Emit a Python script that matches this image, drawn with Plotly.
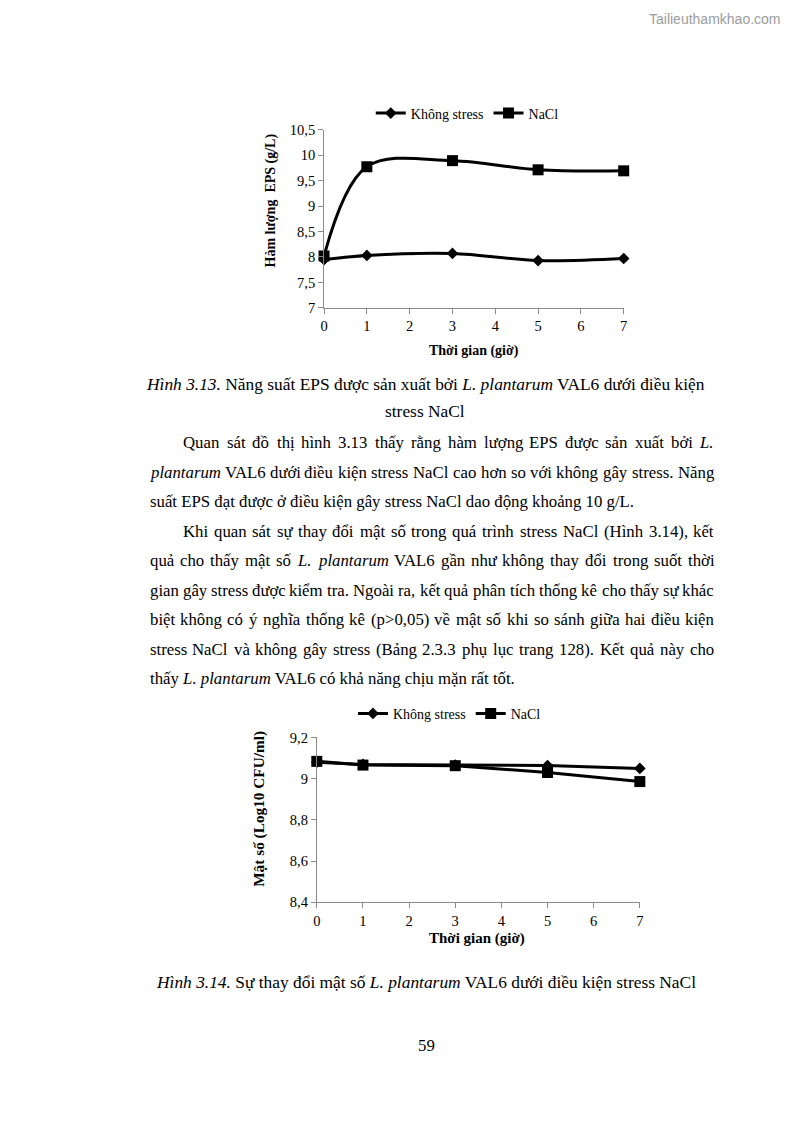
import unicodedata
import plotly.graph_objects as go

W, H = 794, 1123

# ---------------- data ----------------
time_h = [0, 1, 3, 5, 7]
x_ticks = [0, 1, 2, 3, 4, 5, 6, 7]
series_names = ["Không stress", "NaCl"]

# Figure 3.13 - EPS (g/L)
eps_khong_stress = [7.95, 8.03, 8.07, 7.93, 7.97]
eps_nacl = [8.02, 9.77, 9.89, 9.71, 9.69]
eps_yticks = [7, 7.5, 8, 8.5, 9, 9.5, 10, 10.5]
eps_yticklabels = ["7", "7,5", "8", "8,5", "9", "9,5", "10", "10,5"]

# Figure 3.14 - cell count (log10 CFU/ml)
cnt_khong_stress = [9.080, 9.069, 9.066, 9.064, 9.050]
cnt_nacl = [9.084, 9.066, 9.063, 9.030, 8.986]
cnt_yticks = [8.4, 8.6, 8.8, 9.0, 9.2]
cnt_yticklabels = ["8,4", "8,6", "8,8", "9", "9,2"]

# ---------------- page text ----------------
caption1_a = "<i>Hình 3.13.</i> Năng suất EPS được sản xuất bởi <i>L. plantarum</i> VAL6 dưới điều kiện"
caption1_b = "stress NaCl"
para_lines = [
    ("Quan sát đồ thị hình 3.13 thấy rằng hàm lượng EPS được sản xuất bởi <i>L.</i>", True, True),
    ("<i>plantarum</i> VAL6 dưới điều kiện stress NaCl cao hơn so với không gây stress. Năng", False, True),
    ("suất EPS đạt được ở điều kiện gây stress NaCl dao động khoảng 10 g/L.", False, False),
    ("Khi quan sát sự thay đổi mật số trong quá trình stress NaCl (Hình 3.14), kết", True, True),
    ("quả cho thấy mật số <i>L.</i> <i>plantarum</i> VAL6 gần như không thay đổi trong suốt thời", False, True),
    ("gian gây stress được kiểm tra. Ngoài ra, kết quả phân tích thống kê cho thấy sự khác", False, True),
    ("biệt không có ý nghĩa thống kê (p>0,05) về mật số khi so sánh giữa hai điều kiện", False, True),
    ("stress NaCl và không gây stress (Bảng 2.3.3 phụ lục trang 128). Kết quả này cho", False, True),
    ("thấy <i>L. plantarum</i> VAL6 có khả năng chịu mặn rất tốt.", False, False),
]
caption2 = "<i>Hình 3.14.</i> Sự thay đổi mật số <i>L. plantarum</i> VAL6 dưới điều kiện stress NaCl"
page_no = "59"
watermark = "Tailieuthamkhao.com"

SERIF = "Liberation Serif, Times New Roman, serif"
FS = 16.8      # body text
FS_CAP = 17.4  # captions


def px(x):
    return x / W


def py(y):
    return 1 - y / H


# Times New Roman advance widths (per 1000 em)
REG = {}
ITA = {}
for ch, w in zip("abcdefghijklmnopqrstuvwxyz",
                 [444, 500, 444, 500, 444, 333, 500, 500, 278, 278, 500, 278, 778,
                  500, 500, 500, 500, 333, 389, 278, 500, 500, 722, 500, 500, 444]):
    REG[ch] = w
for ch, w in zip("ABCDEFGHIJKLMNOPQRSTUVWXYZ",
                 [722, 667, 667, 722, 611, 556, 722, 722, 333, 389, 722, 611, 889,
                  722, 722, 556, 722, 667, 556, 611, 722, 722, 944, 722, 722, 611]):
    REG[ch] = w
for ch, w in zip("abcdefghijklmnopqrstuvwxyz",
                 [500, 500, 444, 500, 444, 278, 500, 500, 278, 278, 444, 278, 722,
                  500, 500, 500, 500, 389, 389, 278, 500, 444, 667, 444, 444, 389]):
    ITA[ch] = w
for ch, w in zip("ABCDEFGHIJKLMNOPQRSTUVWXYZ",
                 [611, 611, 667, 722, 611, 611, 722, 722, 333, 444, 667, 556, 833,
                  667, 722, 611, 722, 611, 500, 556, 722, 611, 833, 611, 556, 556]):
    ITA[ch] = w
PUN = {".": 250, ",": 250, "(": 333, ")": 333, "/": 278, ">": 564, ":": 278,
       "-": 333, " ": 250, "đ": 500, "Đ": 722}
KERN = {("V", "A"): -129, ("A", "V"): -135, ("y", "."): -65, ("y", ","): -65,
        ("r", "."): -55, ("r", ","): -40}


def char_w(ch, italic):
    if ch in PUN:
        return PUN[ch]
    if ch.isdigit():
        return 500
    base = unicodedata.normalize("NFD", ch)[0]
    table = ITA if italic else REG
    return table.get(base, 500)


def word_w(plain, italic):
    w = sum(char_w(c, italic) for c in plain)
    for a, b in zip(plain, plain[1:]):
        w += KERN.get((a, b), 0)
    if italic:
        w += 60  # slanted overhang
    return w * FS / 1000


fig = go.Figure()

# ---------------- traces ----------------
fig.add_trace(go.Scatter(
    x=time_h, y=eps_khong_stress, name=series_names[0], mode="lines+markers",
    line=dict(color="black", width=3, shape="spline", smoothing=1),
    marker=dict(symbol="diamond", size=9, color="black"),
    xaxis="x", yaxis="y", legend="legend", cliponaxis=False))
fig.add_trace(go.Scatter(
    x=time_h, y=eps_nacl, name=series_names[1], mode="lines+markers",
    line=dict(color="black", width=3, shape="spline", smoothing=1),
    marker=dict(symbol="square", size=11, color="black"),
    xaxis="x", yaxis="y", legend="legend", cliponaxis=False))
fig.add_trace(go.Scatter(
    x=time_h, y=cnt_khong_stress, name=series_names[0], mode="lines+markers",
    line=dict(color="black", width=3),
    marker=dict(symbol="diamond", size=9, color="black"),
    xaxis="x2", yaxis="y2", legend="legend2", cliponaxis=False))
fig.add_trace(go.Scatter(
    x=time_h, y=cnt_nacl, name=series_names[1], mode="lines+markers",
    line=dict(color="black", width=3),
    marker=dict(symbol="square", size=11, color="black"),
    xaxis="x2", yaxis="y2", legend="legend2", cliponaxis=False))

axis_common = dict(showgrid=False, zeroline=False, showline=True, linecolor="#8a8a8a",
                   linewidth=1, ticks="outside", ticklen=5, tickcolor="#8a8a8a",
                   tickfont=dict(family=SERIF, size=14.5, color="black"), fixedrange=True)

legend_common = dict(orientation="h", xanchor="center", yanchor="middle",
                     font=dict(family=SERIF, size=14, color="black"),
                     bgcolor="rgba(0,0,0,0)", itemwidth=30, traceorder="normal")

fig.update_layout(
    width=W, height=H, margin=dict(l=0, r=0, t=0, b=0),
    paper_bgcolor="white", plot_bgcolor="white", showlegend=True,
    xaxis=dict(domain=[px(323.3), px(626)], range=[0, 7], tickvals=x_ticks,
               anchor="y", **axis_common),
    yaxis=dict(domain=[py(304.3), py(123.3)], range=[7, 10.5], tickvals=eps_yticks,
               ticktext=eps_yticklabels, anchor="x", **axis_common),
    xaxis2=dict(domain=[px(316), px(642.3)], range=[0, 7], tickvals=x_ticks,
                anchor="y2", **axis_common),
    yaxis2=dict(domain=[py(907.3), py(740)], range=[8.4, 9.2], tickvals=cnt_yticks,
                ticktext=cnt_yticklabels, anchor="x2", **axis_common),
    legend=dict(x=px(468), y=py(107), **legend_common),
    legend2=dict(x=px(450), y=py(716), **legend_common),
)


def ann(text, x, y, size, xanchor="center", angle=0, family=SERIF, color="black"):
    fig.add_annotation(text=text, x=px(x), y=py(y), xref="paper", yref="paper",
                       xanchor=xanchor, yanchor="middle", showarrow=False,
                       textangle=angle, borderpad=0, borderwidth=0,
                       font=dict(family=family, size=size, color=color))


# ---------------- axis titles ----------------
ann("<b>Thời gian (giờ)</b>", 475, 348, 14)
ann("<b>Hàm lượng  EPS (g/L)</b>", 270, 195, 14, angle=-90)
ann("<b>Thời gian (giờ)</b>", 478, 944, 15)
ann("<b>Mật số (Log10 CFU/ml)</b>", 258, 812, 15.3, angle=-90)

# ---------------- captions & paragraph ----------------
ann(caption1_a, 425.5, 381, FS_CAP)
ann(caption1_b, 425, 409, FS_CAP)
ann(caption2, 426, 988, FS_CAP)
ann(page_no, 427, 1052, FS)
ann(watermark, 785, 11, 14, xanchor="right", family="Liberation Sans, Arial, sans-serif",
    color="#9c9c9c")

LEFT, RIGHT, INDENT = 147, 717, 181
line_y0, line_step = 441, 29.9
for i, (line, indented, justify) in enumerate(para_lines):
    y = line_y0 + i * line_step
    x0 = INDENT if indented else LEFT
    if not justify:
        ann(line, x0, y, FS, xanchor="left")
        continue
    words = []
    for t in line.split(" "):
        it = "<i>" in t
        plain = t.replace("<i>", "").replace("</i>", "")
        words.append((t, word_w(plain, it)))
    total = sum(w for _, w in words)
    gap = (RIGHT - x0 - total) / (len(words) - 1)
    x = x0
    for t, wpx in words:
        ann(t, x, y, FS, xanchor="left")
        x += wpx + gap

fig.write_html("out.html", config={"displayModeBar": False},
               post_script="document.body.style.margin='0';")
